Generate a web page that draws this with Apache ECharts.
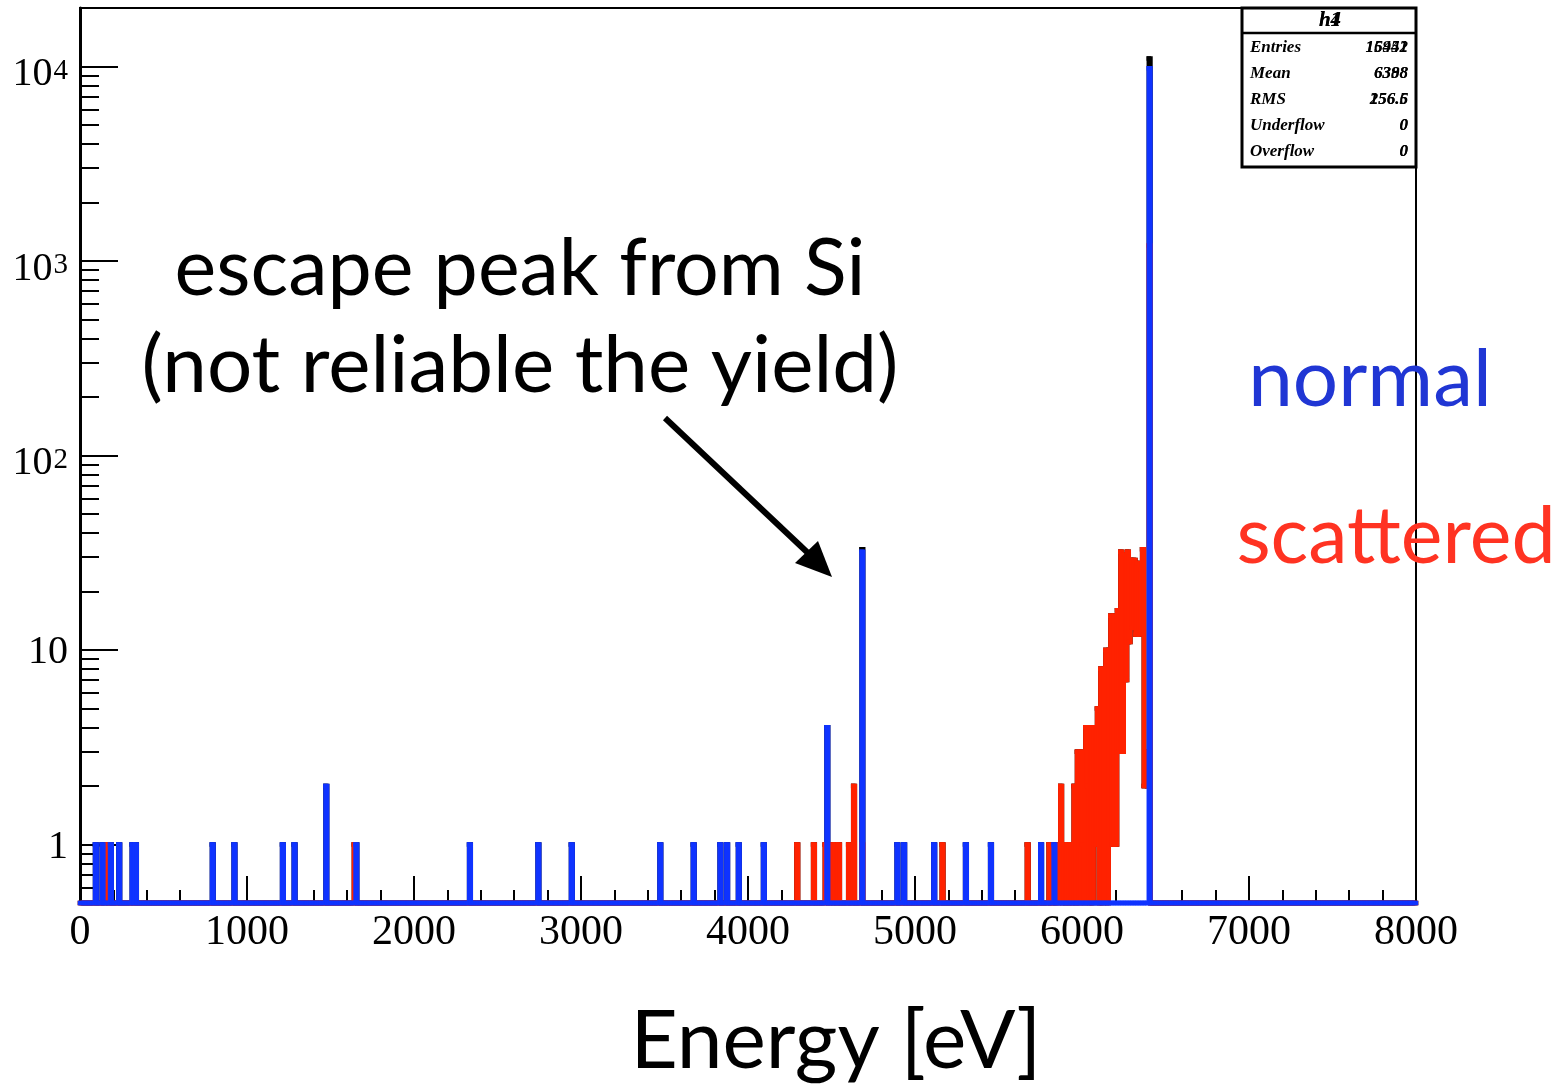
<!DOCTYPE html>
<html>
<head>
<meta charset="utf-8">
<title>Energy spectrum</title>
<script src="https://cdn.jsdelivr.net/npm/echarts@6/dist/echarts.min.js"></script>
<style>
  html, body { margin: 0; padding: 0; background: #ffffff; }
  #chart { width: 1563px; height: 1086px; }
</style>
</head>
<body>
<div id="chart"></div>
<script>
// Histogram binning (eV)
const binWidth = 10;
const energyRange = [0, 8000];
const countRange = [0.5, 20000];

// Axis ticks
const xTickStep = 1000;
const yMajorTicks = [1, 10, 100, 1000, 10000];
const yMinorTicks = [0.6, 0.7, 0.8, 0.9,
  2, 3, 4, 5, 6, 7, 8, 9,
  20, 30, 40, 50, 60, 70, 80, 90,
  200, 300, 400, 500, 600, 700, 800, 900,
  2000, 3000, 4000, 5000, 6000, 7000, 8000, 9000, 20000];

// "normal" events: lower bin edge (eV) and counts of the non-empty bins
const normalEnergy = [90, 130, 180, 230, 310, 330, 790, 920, 1210, 1280, 1470, 1650, 2330,
  2740, 2940, 3470, 3670, 3830, 3870, 3940, 4090, 4470, 4680, 4890, 4930, 5110, 5300,
  5450, 5750, 5830, 6400];
const normalCounts = [1, 1, 1, 1, 1, 1, 1, 1, 1, 1, 2, 1, 1,
  1, 1, 1, 1, 1, 1, 1, 1, 4, 32, 1, 1, 1, 1,
  1, 1, 1, 9800];

// "scattered" events: lower bin edge (eV) and counts of the non-empty bins
const scatteredEnergy = [160, 1640, 4290, 4390, 4460, 4500, 4520, 4540, 4600, 4630, 4680,
  5160, 5670, 5800,
  5860, 5870, 5890, 5910, 5930, 5950, 5970, 5990, 6000, 6020, 6030, 6050, 6070, 6080,
  6090, 6110, 6130, 6140, 6160, 6170, 6180, 6190, 6200, 6210, 6220, 6230, 6240, 6250,
  6260, 6270, 6280, 6290, 6300, 6310, 6320, 6330, 6340, 6350, 6360, 6370, 6380, 6390,
  6400];
const scatteredCounts = [1, 1, 1, 1, 1, 1, 1, 1, 1, 2, 1,
  1, 1, 1,
  1, 2, 1, 1, 1, 2, 3, 3, 1, 4, 2, 4, 4, 1,
  5, 8, 8, 10, 10, 15, 1, 15, 1, 16, 3, 32, 3, 31,
  7, 32, 11, 29, 13, 29, 12, 28, 12, 26, 33, 2, 3, 2,
  1200];

// Statistics boxes of the two overlaid histograms
const statTitles = ['h4', 'h1'];
const statNames = ['Entries', 'Mean', 'RMS', 'Underflow', 'Overflow'];
const statValues = [
  ['15942', '6388', '256.6', '0', '0'],
  ['16451', '6398', '156.5', '0', '0']
];

const nBins = (energyRange[1] - energyRange[0]) / binWidth;

function fillBins(energies, counts) {
  const bins = new Array(nBins).fill(0);
  energies.forEach((e, i) => {
    bins[Math.round((e - energyRange[0]) / binWidth)] += counts[i];
  });
  return bins;
}

// One record per bin: [low edge, high edge, count, next bin count];
// empty bins sit on the bottom of the log frame
function binRecords(bins) {
  const floor = countRange[0];
  return bins.map((c, i) => {
    const lo = energyRange[0] + i * binWidth;
    const next = i + 1 < bins.length ? bins[i + 1] : c;
    return [lo, lo + binWidth, Math.max(c, floor), Math.max(next, floor)];
  });
}

const normalBins = fillBins(normalEnergy, normalCounts);
const scatteredBins = fillBins(scatteredEnergy, scatteredCounts);
const totalBins = normalBins.map((c, i) => c + scatteredBins[i]);

const serifFont = '"Liberation Serif", "DejaVu Serif", serif';
const sansFont = 'Lato, "Open Sans", sans-serif';

// Histogram outline: top of each bin plus the riser to the next bin
function histSeries(name, bins, color, z) {
  return {
    name: name,
    type: 'custom',
    data: binRecords(bins),
    encode: { x: [0, 1], y: [2, 3] },
    silent: true,
    animation: false,
    clip: false,
    z: z,
    renderItem: function (params, api) {
      const lo = api.value(0), hi = api.value(1), c = api.value(2), next = api.value(3);
      return {
        type: 'polyline',
        shape: { points: [api.coord([lo, c]), api.coord([hi, c]), api.coord([hi, next])] },
        style: { stroke: color, lineWidth: 4.5, fill: null, lineCap: 'square', lineJoin: 'miter' }
      };
    }
  };
}

const chart = echarts.init(document.getElementById('chart'), null, { renderer: 'canvas' });

const statFont = 'italic bold 17px ' + serifFont;
const statGraphics = [{
  type: 'rect',
  z: 100,
  shape: { x: 1242, y: 8, width: 174, height: 159 },
  style: { fill: '#ffffff', stroke: '#000000', lineWidth: 3 }
}, {
  type: 'line',
  z: 101,
  shape: { x1: 1242, y1: 33, x2: 1416, y2: 33 },
  style: { stroke: '#000000', lineWidth: 2.5 }
}];
statTitles.forEach(t => {
  statGraphics.push({
    type: 'text', z: 102, x: 1330, y: 21,
    style: { text: t, font: 'italic bold 21px ' + serifFont, fill: '#000', align: 'center', verticalAlign: 'middle' }
  });
});
statNames.forEach((n, r) => {
  const y = 48 + r * 26;
  statGraphics.push({
    type: 'text', z: 102, x: 1250, y: y,
    style: { text: n, font: statFont, fill: '#000', align: 'left', verticalAlign: 'middle' }
  });
  statValues.forEach(vals => {
    statGraphics.push({
      type: 'text', z: 102, x: 1408, y: y,
      style: { text: vals[r], font: statFont, fill: '#000', align: 'right', verticalAlign: 'middle' }
    });
  });
});

const noteGraphics = [
  {
    type: 'text', z: 50, x: 520, y: 270,
    style: { text: 'escape peak from Si', font: '79px ' + sansFont, fill: '#000', align: 'center', verticalAlign: 'middle' }
  },
  {
    type: 'text', z: 50, x: 520, y: 366,
    style: { text: '(not reliable the yield)', font: '80px ' + sansFont, fill: '#000', align: 'center', verticalAlign: 'middle' }
  },
  {
    type: 'line', z: 50,
    shape: { x1: 665, y1: 418, x2: 808, y2: 553 },
    style: { stroke: '#000', lineWidth: 6 }
  },
  {
    type: 'polygon', z: 50,
    shape: { points: [[832, 577], [795, 563], [818, 541]] },
    style: { fill: '#000' }
  },
  {
    type: 'text', z: 50, x: 1370, y: 380,
    style: { text: 'normal', font: '80px ' + sansFont, fill: '#2036d4', align: 'center', verticalAlign: 'middle' }
  },
  {
    type: 'text', z: 50, x: 1396, y: 538,
    style: { text: 'scattered', font: '79px ' + sansFont, fill: '#ff3322', align: 'center', verticalAlign: 'middle' }
  },
  {
    type: 'text', z: 50, x: 836, y: 1042,
    style: { text: 'Energy [eV]', font: '82px ' + sansFont, fill: '#000', align: 'center', verticalAlign: 'middle' }
  }
];

const option = {
  backgroundColor: '#ffffff',
  animation: false,
  grid: {
    left: 80, right: 147, top: 8, bottom: 183,
    show: true, borderColor: '#000000', borderWidth: 2, backgroundColor: 'transparent'
  },
  xAxis: {
    type: 'value',
    min: energyRange[0],
    max: energyRange[1],
    interval: xTickStep,
    axisLine: { show: true, onZero: false, lineStyle: { color: '#000', width: 2 } },
    axisTick: { show: true, inside: true, length: 27, lineStyle: { color: '#000', width: 2 } },
    minorTick: { show: true, splitNumber: 5, length: 13, lineStyle: { color: '#000', width: 2 } },
    axisLabel: {
      color: '#000', fontFamily: serifFont, fontSize: 42, margin: 9,
      formatter: function (v) { return String(v); }
    },
    splitLine: { show: false },
    minorSplitLine: { show: false }
  },
  yAxis: [{
    type: 'log',
    logBase: 10,
    min: countRange[0],
    max: countRange[1],
    position: 'left',
    axisLine: { show: true, lineStyle: { color: '#000', width: 3 } },
    axisTick: { show: true, inside: true, length: 38, customValues: yMajorTicks, lineStyle: { color: '#000', width: 2 } },
    axisLabel: {
      customValues: yMajorTicks,
      margin: 12,
      formatter: function (v) {
        const n = Math.round(Math.log10(v));
        if (n === 0) return '{c|1}';
        if (n === 1) return '{c|10}';
        return '{b|10}{s|' + n + '}';
      },
      rich: {
        b: { fontFamily: serifFont, fontSize: 40, color: '#000', lineHeight: 40, padding: [16, 0, 0, 0] },
        c: { fontFamily: serifFont, fontSize: 40, color: '#000', lineHeight: 40, padding: [6, 0, 0, 0] },
        s: { fontFamily: serifFont, fontSize: 29, color: '#000', lineHeight: 29, verticalAlign: 'top', padding: [10, 0, 0, 1] }
      }
    },
    splitLine: { show: false }
  }, {
    type: 'log',
    logBase: 10,
    min: countRange[0],
    max: countRange[1],
    position: 'left',
    axisLine: { show: false },
    axisTick: { show: true, inside: true, length: 19, customValues: yMinorTicks, lineStyle: { color: '#000', width: 2 } },
    axisLabel: { show: false },
    splitLine: { show: false }
  }],
  series: [
    histSeries('total', totalBins, '#000000', 2),
    histSeries('scattered', scatteredBins, '#ff2200', 3),
    histSeries('normal', normalBins, '#0f33ff', 4)
  ],
  graphic: { elements: noteGraphics.concat(statGraphics) }
};

chart.setOption(option);
</script>
</body>
</html>
